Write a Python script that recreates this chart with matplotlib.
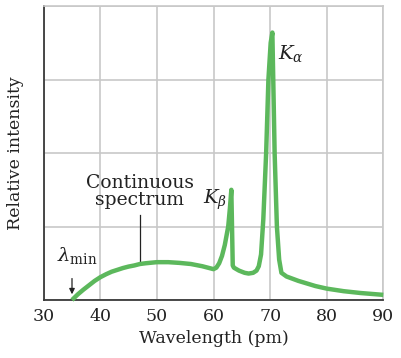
import matplotlib
matplotlib.use("Agg")
import matplotlib.pyplot as plt

# spectrum (wavelength in pm, relative intensity)
wavelength = [35, 36, 37, 38, 39, 40, 41, 42, 43, 44, 45, 46, 47, 48, 50, 52, 54,
              56, 58, 59, 60, 60.5, 61, 61.5, 62, 62.6, 62.9, 63.15, 63.4, 63.6,
              64.5, 65.5, 66.2, 67, 67.6, 68.0, 68.4, 68.8, 69.3, 69.7, 70.1,
              70.4, 70.8, 71.2, 71.6, 72.0, 72.9, 75, 78, 80, 83, 86, 90]
intensity = [0.0, 0.075, 0.14, 0.20, 0.26, 0.31, 0.35, 0.385, 0.41, 0.435, 0.455,
             0.47, 0.49, 0.50, 0.515, 0.515, 0.505, 0.49, 0.46, 0.44, 0.42, 0.44,
             0.50, 0.60, 0.75, 1.0, 1.25, 1.50, 0.47, 0.44, 0.40, 0.37, 0.36, 0.37,
             0.40, 0.46, 0.62, 1.1, 2.0, 3.0, 3.5, 3.64, 2.0, 1.0, 0.55, 0.37, 0.32,
             0.26, 0.19, 0.155, 0.12, 0.095, 0.07]

xticks = [30, 40, 50, 60, 70, 80, 90]
yticks = [0, 1, 2, 3, 4]

plt.rcParams['font.family'] = ['DejaVu Serif']
plt.rcParams['mathtext.fontset'] = 'dejavuserif'

green = '#5cb85c'
grid_c = '#c8c8c8'
txt = '#222222'

fig = plt.figure(figsize=(4.02, 3.58), dpi=100)
ax = fig.add_axes([0.1087, 0.162, 0.8448, 0.821])

ax.plot(wavelength, intensity, color=green, lw=3.2, solid_joinstyle='round',
        solid_capstyle='butt', zorder=3, clip_on=False)

ax.set_xlim(30, 90)
ax.set_ylim(0, 4)
ax.set_xticks(xticks)
ax.set_yticks(yticks)
ax.set_yticklabels([])
ax.tick_params(length=0, labelsize=12.5, pad=6, colors=txt)
ax.grid(True, color=grid_c, lw=1.2)
ax.set_axisbelow(True)

for s in ['left', 'bottom']:
    ax.spines[s].set_color('#3a3a3a')
    ax.spines[s].set_linewidth(1.3)
for s in ['top', 'right']:
    ax.spines[s].set_color(grid_c)
    ax.spines[s].set_linewidth(1.2)

ax.set_xlabel('Wavelength (pm)', fontsize=12.5, color=txt, labelpad=3)
ax.set_ylabel('Relative intensity', fontsize=12.5, color=txt, labelpad=8)

# labels
ax.text(47.0, 1.48, 'Continuous\nspectrum', ha='center', va='center',
        fontsize=13.5, color=txt, linespacing=0.95)
ax.plot([47.1, 47.1], [0.53, 1.16], color=txt, lw=0.9)

ax.text(35.9, 0.61, r'$\lambda_{\rm min}$', ha='center', va='center',
        fontsize=14, color=txt)
ax.annotate('', xy=(35, 0.04), xytext=(35, 0.33),
            arrowprops=dict(arrowstyle='-|>', color=txt, lw=0.9,
                            mutation_scale=8))

ax.text(60.3, 1.36, r'$K_\beta$', ha='center', va='center',
        fontsize=14, color=txt)
ax.text(73.7, 3.36, r'$K_\alpha$', ha='center', va='center',
        fontsize=14, color=txt)

fig.savefig('out.png', dpi=100)
